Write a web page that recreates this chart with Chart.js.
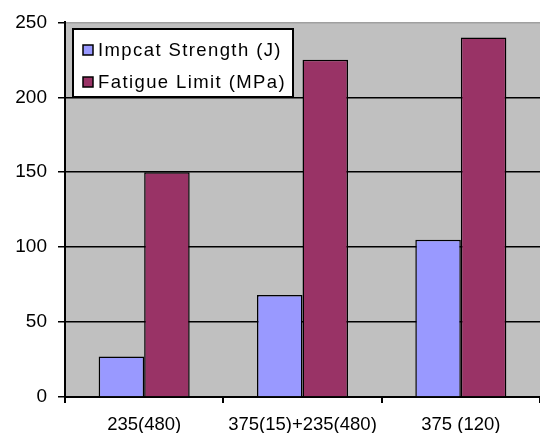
<!DOCTYPE html>
<html>
<head>
<meta charset="utf-8">
<script src="https://cdn.jsdelivr.net/npm/chart.js@4/dist/chart.umd.min.js"></script>
<style>
  html, body { margin: 0; padding: 0; background: #fff; }
  #wrap { width: 540px; height: 433px; position: relative; }
</style>
</head>
<body>
<div id="wrap"><canvas id="chart"></canvas></div>
<script>
// chart data
const categories = ['235(480)', '375(15)+235(480)', '375 (120)'];
const impactStrength = [27, 68, 105];
const fatigueLimit = [150, 225, 240];
const seriesNames = ['Impcat Strength (J)', 'Fatigue Limit (MPa)'];
const yTicks = [0, 50, 100, 150, 200, 250];

const FONT = 'Arial, "Liberation Sans", sans-serif';

// gray plot background
const plotBg = {
    id: 'plotBg',
    beforeDraw(chart) {
        const { ctx, chartArea: a } = chart;
        ctx.save();
        ctx.fillStyle = '#c0c0c0';
        ctx.fillRect(a.left, a.top, a.right - a.left, a.bottom - a.top);
        ctx.restore();
    }
};

// legend box drawn inside the plot area
const innerLegend = {
    id: 'innerLegend',
    afterDraw(chart) {
        const { ctx } = chart;
        const x = 73, y = 29, w = 220, h = 68;
        ctx.save();
        ctx.fillStyle = '#fff';
        ctx.fillRect(x, y, w, h);
        ctx.strokeStyle = '#000';
        ctx.lineWidth = 2;
        ctx.strokeRect(x, y, w, h);
        ctx.font = '18.5px ' + FONT;
        ctx.textBaseline = 'middle';
        ctx.letterSpacing = '1.4px';
        chart.data.datasets.forEach((ds, i) => {
            const cy = y + 21 + i * 32;
            ctx.fillStyle = ds.backgroundColor;
            ctx.fillRect(83, cy - 5, 10, 10);
            ctx.lineWidth = 1.5;
            ctx.strokeRect(83, cy - 5, 10, 10);
            ctx.fillStyle = '#000';
            ctx.fillText(ds.label, 98, cy + 1);
        });
        ctx.restore();
    }
};

new Chart(document.getElementById('chart'), {
    type: 'bar',
    data: {
        labels: categories,
        datasets: [
            {
                label: seriesNames[0],
                data: impactStrength,
                backgroundColor: '#9999ff',
                borderColor: '#000',
                borderWidth: 1.5,
                categoryPercentage: 0.575,
                barPercentage: 1.0
            },
            {
                label: seriesNames[1],
                data: fatigueLimit,
                backgroundColor: '#993366',
                borderColor: '#000',
                borderWidth: 1.5,
                categoryPercentage: 0.575,
                barPercentage: 1.0
            }
        ]
    },
    options: {
        responsive: true,
        maintainAspectRatio: false,
        animation: false,
        layout: { padding: { left: 0, right: 0, top: 20, bottom: 0 } },
        plugins: {
            legend: { display: false },
            tooltip: { enabled: false }
        },
        scales: {
            x: {
                grid: {
                    drawOnChartArea: false,
                    drawTicks: true,
                    tickLength: 6,
                    color: '#000',
                    lineWidth: 2
                },
                border: { display: true, color: '#000', width: 2 },
                ticks: {
                    color: '#000',
                    font: { family: FONT, size: 18.5 },
                    padding: 11,
                    maxRotation: 0
                },
                afterFit: (s) => { s.height = 36; }
            },
            y: {
                min: 0,
                max: 250,
                afterBuildTicks: (s) => { s.ticks = yTicks.map(v => ({ value: v })); },
                grid: {
                    color: (c) => c.tick && c.tick.value === 250 ? '#a0a0a0' : '#000',
                    lineWidth: 1.5,
                    tickLength: 7,
                    tickColor: '#000'
                },
                border: { display: true, color: '#000', width: 2 },
                ticks: {
                    color: '#000',
                    font: { family: FONT, size: 19 },
                    padding: 11
                },
                afterFit: (s) => { s.width = 65; }
            }
        }
    },
    plugins: [plotBg, innerLegend]
});
</script>
</body>
</html>
